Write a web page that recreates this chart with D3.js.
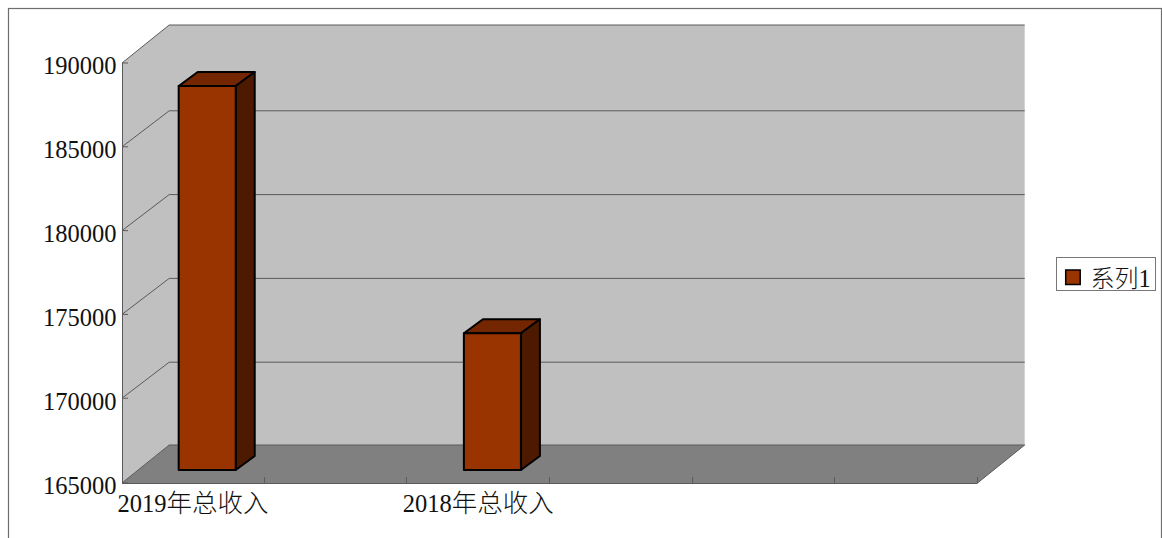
<!DOCTYPE html>
<html>
<head>
<meta charset="utf-8">
<script src="https://d3js.org/d3.v7.min.js"></script>
<style>
html, body { margin: 0; padding: 0; background: #fff; overflow: hidden; }
text { font-family: "Liberation Serif", "Noto Sans CJK SC", serif; fill: #111; }
</style>
</head>
<body>
<script>
var categories = ["2019年总收入", "", "2018年总收入", "", "", ""];
var seriesName = "系列1";
var seriesValues = [187850, null, 173100, null, null, null];
var yTicks = [165000, 170000, 175000, 180000, 185000, 190000];

var _width = 1162, _height = 538;
var _left = 122, _right = 977.5, _top = 63, _bottom = 483;
var _dx = 47.2, _dy = 38;         // floor depth
var _gridDy = 36;                 // inner grid lines rise a little less
var _barDx0 = 14.2, _barDy0 = 13; // front of bar inside the depth
var _barDx = 19, _barDy = 14;     // bar depth
var GRID = "#5a5a5a";

var svg = d3.select("body").append("svg")
    .attr("width", _width)
    .attr("height", _height)
    .style("display", "block");

var x = d3.scaleBand().domain(d3.range(categories.length)).range([121.7, 977.3]);
var y = d3.scaleLinear().domain([165000, 190000]).range([_bottom, _top]);
var yWall = d3.scaleLinear().domain([165000, 190000]).range([_bottom - 1, _top]);

function poly(points, fill, stroke, sw) {
    return svg.append("path")
        .attr("d", "M" + points.join("L") + "Z")
        .attr("fill", fill)
        .attr("stroke", stroke || "none")
        .attr("stroke-width", sw || 0)
        .attr("stroke-linejoin", "round");
}

function line(x1, y1, x2, y2, color, w) {
    svg.append("line")
        .attr("x1", x1).attr("y1", y1).attr("x2", x2).attr("y2", y2)
        .attr("stroke", color).attr("stroke-width", w || 1);
}

// digits and CJK need different sizes to get the picture's widths
function mixedText(sel, digitSize, cjkSize) {
    sel.each(function () {
        var t = d3.select(this);
        var parts = t.text().match(/[0-9]+|[^0-9]+/g) || [];
        t.text(null);
        parts.forEach(function (p) {
            var isDigit = /[0-9]/.test(p);
            t.append("tspan")
                .style("font-size", (isDigit ? digitSize : cjkSize) + "px")
                .style("font-weight", isDigit ? null : 300)
                .text(p);
        });
    });
}

// outer frame, its lower edge falls below the picture
svg.append("rect")
    .attr("x", 8.5).attr("y", 8.5)
    .attr("width", 1153).attr("height", 600)
    .attr("fill", "#fff").attr("stroke", "#6e6e6e").attr("stroke-width", 1.2);

// walls and floor
poly([[_left, _top], [_left + _dx, _top - _dy], [_right + _dx, _top - _dy], [_right + _dx, _bottom - _dy], [_left + _dx, _bottom - _dy], [_left, _bottom]], "#c0c0c0");
poly([[_left, _bottom], [_left + _dx, _bottom - _dy], [_right + _dx, _bottom - _dy], [_right, _bottom]], "#808080");

// grid lines along both walls
yTicks.forEach(function (t) {
    var py = yWall(t);
    var rise = (t === yTicks[0] || t === yTicks[yTicks.length - 1]) ? _dy : _gridDy;
    if (t === yTicks[0]) py = y(t);
    line(_left, py, _left + _dx, py - rise, GRID);
    line(_left + _dx, py - rise, _right + _dx, py - rise, GRID);
    line(_left, py, _left + 6, py, GRID);
});
line(_left + 0.5, _top, _left + 0.5, _bottom, GRID);
line(_left, _bottom + 0.5, _right, _bottom + 0.5, GRID);
line(_right, _bottom, _right + _dx, _bottom - _dy, GRID);

// category ticks sit on the band edges
d3.range(categories.length).forEach(function (i) {
    var px = Math.floor(x(i) + x.step()) + 0.5;
    line(px, _bottom, px, _bottom - 6, GRID);
});

// bars
seriesValues.forEach(function (v, i) {
    if (v === null) return;
    var w = x.bandwidth() * 0.4;
    var x0 = x(i) + x.bandwidth() / 2 - w / 2 + _barDx0;
    var x1 = x0 + w;
    var yT = yWall(v) - _barDy0;
    var yB = _bottom - _barDy0;
    poly([[x0, yT], [x0 + _barDx, yT - _barDy], [x1 + _barDx, yT - _barDy], [x1, yT]], "#732600", "#000", 2);
    poly([[x1, yT], [x1 + _barDx, yT - _barDy], [x1 + _barDx, yB - _barDy], [x1, yB]], "#4d1a00", "#000", 2);
    poly([[x0, yT], [x1, yT], [x1, yB], [x0, yB]], "#993300", "#000", 2);
});

// axes, only their labels are shown
var yAxis = svg.append("g")
    .attr("transform", "translate(" + (_left - 1) + ",0)")
    .call(d3.axisLeft(y).tickValues(yTicks).tickFormat(d3.format("d")).tickSize(0).tickPadding(4.5));
yAxis.select(".domain").remove();
yAxis.selectAll("text")
    .attr("font-family", null)
    .style("font-size", "24.5px")
    .attr("dy", null)
    .attr("y", 10);

var xAxis = svg.append("g")
    .attr("transform", "translate(0," + _bottom + ")")
    .call(d3.axisBottom(x).tickFormat(function (i) { return categories[i]; }).tickSize(0).tickPadding(0));
xAxis.select(".domain").remove();
xAxis.selectAll("text")
    .attr("font-family", null)
    .attr("dy", null)
    .attr("y", 29)
    .call(mixedText, 24.5, 25.5);

// legend
svg.append("rect")
    .attr("x", 1056.5).attr("y", 257.5).attr("width", 99).attr("height", 33)
    .attr("fill", "#fff").attr("stroke", "#777").attr("stroke-width", 1);
svg.append("rect")
    .attr("x", 1065.7).attr("y", 270).attr("width", 14.5).attr("height", 14.5)
    .attr("fill", "#993300").attr("stroke", "#000").attr("stroke-width", 1.5);
svg.append("text")
    .attr("x", 1090.5).attr("y", 287)
    .text(seriesName)
    .call(mixedText, 24.5, 24);
</script>
</body>
</html>
